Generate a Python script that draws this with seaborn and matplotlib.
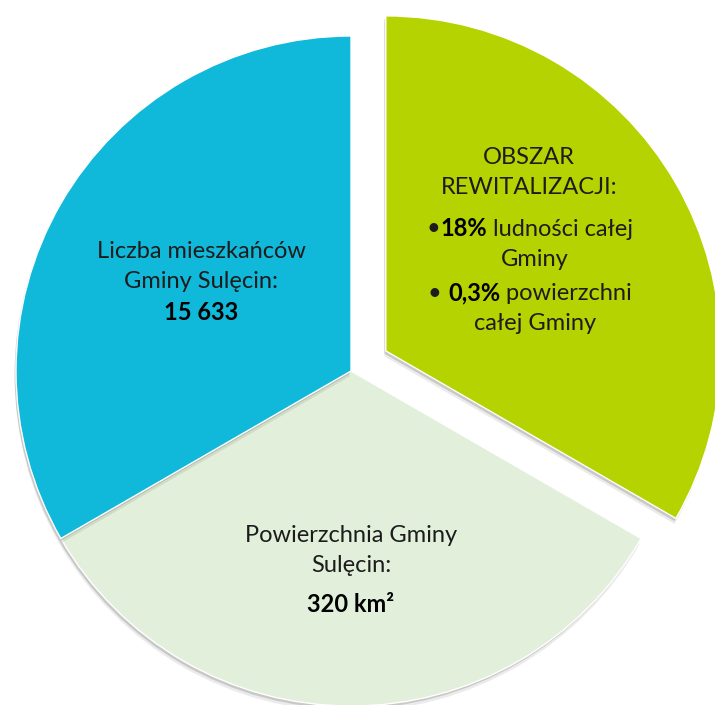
import matplotlib
matplotlib.use("Agg")
import matplotlib.pyplot as plt
import matplotlib.patheffects as pe
from matplotlib.transforms import ScaledTranslation
import seaborn as sns

# data
slice_names = ["Obszar rewitalizacji", "Powierzchnia Gminy", "Liczba mieszkańców"]
slice_sizes = [1, 1, 1]
population = "15 633"
area = "320 km²"
share_population = "18%"
share_area = "0,3%"

sns.set_theme(style="white")
plt.rcParams['font.family'] = ['Lato', 'DejaVu Sans']

palette = ["#b5d300", "#e2efda", "#10b8da"]

fig = plt.figure(figsize=(7.15, 7.05), dpi=100)
ax = fig.add_axes([0, 0, 1, 1])

wedges, _ = ax.pie(slice_sizes, colors=palette, startangle=90, counterclock=False,
                   explode=[0.12, 0, 0], radius=1)
for w in wedges:
    w.set_path_effects([
        pe.SimplePatchShadow(offset=(-1, -4), shadow_rgbFace="#000000", alpha=0.08),
        pe.SimplePatchShadow(offset=(-1, -2), shadow_rgbFace="#000000", alpha=0.15),
        pe.Normal(),
    ])

ax.set_xlim(-351 / 335, (715 - 351) / 335)
ax.set_ylim(-(705 - 371) / 335, 371 / 335)
ax.set_aspect("equal")
ax.axis("off")

FS = 17
renderer = fig.canvas.get_renderer()


def px(x, y):
    # pixel position in reference -> data coords
    return (x - 351) / 335, (371 - y) / 335


def line(x, y, parts):
    """Draw one centred line made of (text, weight) pieces."""
    dx, dy = px(x, y)
    texts = []
    for s, wt in parts:
        col = "#000000" if wt == "bold" else "#1c1c1c"
        t = ax.text(dx, dy, s, fontsize=FS, fontweight=wt, color=col,
                    ha="left", va="center")
        texts.append(t)
    widths = [t.get_window_extent(renderer).width for t in texts]
    cur = -sum(widths) / 2
    for t, wd in zip(texts, widths):
        t.set_transform(ax.transData + ScaledTranslation(cur / fig.dpi, 0, fig.dpi_scale_trans))
        cur += wd


# blue slice
line(201, 252, [("Liczba mieszkańców", "normal")])
line(201, 282, [("Gminy Sulęcin:", "normal")])
line(201, 312, [(population, "bold")])

# light green slice
line(351, 535, [("Powierzchnia Gminy", "normal")])
line(351, 565, [("Sulęcin:", "normal")])
line(351, 605, [(area, "bold")])

# green slice
line(529, 158, [("OBSZAR", "normal")])
line(529, 187, [("REWITALIZACJI:", "normal")])
line(530, 229, [("•", "normal"), (share_population, "bold"), (" ludności całej", "normal")])
line(535, 259, [("Gminy", "normal")])
line(530, 293, [("• ", "normal"), (share_area, "bold"), (" powierzchni", "normal")])
line(535, 323, [("całej Gminy", "normal")])

fig.savefig("out.png", dpi=100)
